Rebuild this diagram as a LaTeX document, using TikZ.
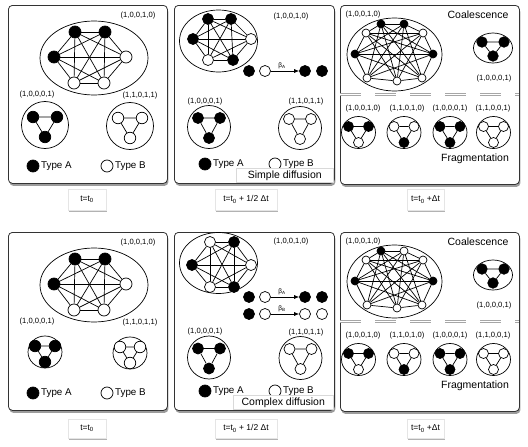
\documentclass[tikz,border=0pt]{standalone}
\usepackage{fontspec}
\setmainfont{Liberation Sans}
\usetikzlibrary{shadows,arrows.meta,shapes.geometric}
\def\ns{11pt}\def\tdx{12}\def\tdy{-8}\def\tdb{12}\def\trw{47pt}\def\trh{47pt}
\tikzset{
 panel/.style={draw=black!80, line width=0.8pt, rounded corners=4pt, fill=white, inner sep=0pt, anchor=north west,
   drop shadow={shadow xshift=1pt, shadow yshift=-2.5pt, opacity=0.55, fill=black!70}},
 tlab/.style={fill=white, draw=black!10, inner sep=0pt, minimum height=21pt, font=\fontsize{8.5}{9}\selectfont,
   drop shadow={shadow xshift=0.8pt, shadow yshift=-2pt, opacity=0.5, fill=black!60}},
 vec/.style={font=\fontsize{7.6}{8}\selectfont, inner sep=0pt},
 bigt/.style={font=\fontsize{10.5}{12}\selectfont, inner sep=0pt},
 leg/.style={font=\fontsize{9.8}{11}\selectfont, inner sep=0pt, anchor=west},
 bn/.style={circle, draw=black, fill=black, line width=0.7pt, inner sep=0pt, minimum size=\ns},
 wn/.style={circle, draw=black, fill=white, line width=0.7pt, inner sep=0pt, minimum size=\ns},
 tric/.style={ellipse, draw, line width=0.7pt, inner sep=0pt, minimum width=\trw, minimum height=\trh},
 bell/.style={ellipse, draw, line width=0.7pt, inner sep=0pt},
 lnk/.style={line width=0.7pt},
 arr/.style={line width=0.7pt, -{Latex[length=5pt,width=4pt]}},
 dline/.style={draw=black!35, line width=1.2pt, double=white, double distance=1.1pt, dash pattern=on 21pt off 14pt},
 dbox/.style={fill=white, draw=black!15, anchor=south east, minimum width=97pt, minimum height=14pt, inner sep=0pt, font=\fontsize{10.5}{12}\selectfont},
 beta/.style={font=\fontsize{6.5}{7}\selectfont, inner sep=0pt},
}
\newcommand\knodes[2]{%
 \foreach \x/\y/\s [count=\i] in {#2} {\node[\s] (#1\i) at (\x,\y) {};}%
}
\newcommand\ksixedges[1]{%
 \foreach \a/\b in {1/2,1/3,1/4,1/5,1/6,2/3,2/4,2/5,2/6,3/4,3/5,3/6,4/5,4/6,5/6} {\draw[lnk] (#1\a) -- (#1\b);}%
}
\newcommand\knineedges[1]{%
 \foreach \a/\b in {1/2,2/3,3/4,4/5,5/6,6/7,7/8,8/9,9/1,1/4,2/5,3/6,4/7,5/8,6/9,7/1,8/2,9/3,1/5,2/6,3/7,4/8,5/9,6/1,7/2,8/3,9/4} {\draw[lnk] (#1\a) -- (#1\b);}%
}
\newcommand\trinet[5]{%
 \node[tric] (#1) at #2 {};
 \node[#3] (#1a) at ([shift={(-\tdx,\tdy)}]#1.center) {};
 \node[#4] (#1b) at ([shift={(\tdx,\tdy)}]#1.center) {};
 \node[#5] (#1c) at ([shift={(0,\tdb)}]#1.center) {};
 \draw[lnk] (#1a) -- (#1b) (#1a) -- (#1c) (#1b) -- (#1c);
}
\newcommand\panelone[1]{%
 \node[panel, minimum width=159pt, minimum height=178pt] (#1box) at (8,5) {};
 \node[bell, minimum width=108pt, minimum height=74pt] (#1ell) at (94,58) {};
 \def\ns{12pt}
 \knodes{#1k}{75/32/bn,105/32/bn,126/57/wn,104/83/wn,74/83/wn,54/57/bn}
 \ksixedges{#1k}
 \node[vec] (#1v1) at (138,16) {(1,0,0,1,0)};
 \node[vec] (#1v2) at (37,95) {(1,0,0,0,1)};
 \node[vec] (#1v3) at (140,96) {(1,1,0,1,1)};
 \def\ns{11.5pt}
 \trinet{#1ta}{(45,125)}{bn}{bn}{bn}
 \trinet{#1tb}{(130,126)}{wn}{wn}{wn}
 \def\ns{12pt}
 \node[bn] (#1la) at (33,166) {};
 \node[leg] (#1lat) at (41,166) {Type A};
 \node[wn] (#1lb) at (107,166) {};
 \node[leg] (#1lbt) at (115,166) {Type B};
}
\newcommand\panelthree[2]{%
 \node[panel, minimum width=179pt, minimum height=179pt] (#1box) at (340,5) {};
 \node[bell, minimum width=95pt, minimum height=73pt] (#1ell) at (394.5,54.5) {};
 \def\ns{8pt}
 \knodes{#1k}{#2}
 \knineedges{#1k}
 \node[vec] (#1v1) at (363,15) {(1,0,0,1,0)};
 \node[bigt] (#1co) at (478,15) {Coalescence};
 \def\ns{10.5pt}\def\tdx{11}\def\tdy{-6}\def\tdb{8}\def\trw{39pt}\def\trh{30pt}
 \trinet{#1cl}{(493,48)}{bn}{bn}{bn}
 \node[vec] (#1v2) at (494,79) {(1,0,0,0,1)};
 \coordinate (#1dl) at (340,94.5);
 \coordinate (#1dr) at (519,94.5);
 \draw[dline] (#1dl) -- (#1dr);
 \node[vec] (#1f1) at (363,109) {(1,0,0,1,0)};
 \node[vec] (#1f2) at (407,109) {(1,1,0,1,0)};
 \node[vec] (#1f3) at (450,109) {(1,0,0,0,1)};
 \node[vec] (#1f4) at (493,109) {(1,1,0,0,1)};
 \def\ns{10pt}\def\tdx{10}\def\tdy{-6}\def\tdb{10}\def\trw{34pt}\def\trh{32pt}
 \trinet{#1fa}{(358.5,132.5)}{bn}{bn}{wn}
 \trinet{#1fb}{(404,132.5)}{wn}{wn}{bn}
 \trinet{#1fc}{(450,132.5)}{bn}{bn}{bn}
 \trinet{#1fd}{(493.5,132.5)}{wn}{wn}{wn}
 \node[bigt] (#1fr) at (475,159) {Fragmentation};
}
\begin{document}
\begin{tikzpicture}[x=1pt,y=-1pt]
\path[use as bounding box, fill=white] (0,0) rectangle (528,447);
% ---------- top row ----------
\panelone{A}
% panel 2 top
\node[panel, minimum width=160pt, minimum height=178pt] (Bbox) at (174,5) {};
\node[bell, minimum width=78pt, minimum height=62pt] (Bell) at (218.5,41) {};
\begin{scope}
\def\ns{11pt}
\knodes{Bk}{208/19/bn,231/19/bn,251/39/wn,233/60/bn,208/60/wn,193/39/bn}
\ksixedges{Bk}
\node[vec] (Bv1) at (291,17) {(1,0,0,1,0)};
\node[bn] (Bd1) at (249,71) {};
\node[wn] (Bd2) at (265,71) {};
\node[bn] (Bd3) at (305,71) {};
\node[bn] (Bd4) at (322,71) {};
\draw[arr] (Bd2) -- (Bd3);
\node[beta] (Bbeta) at (282,66) {β\textsubscript{A}};
\node[vec] (Bv2) at (205,102) {(1,0,0,0,1)};
\node[vec] (Bv3) at (306,102) {(1,1,0,1,1)};
\def\ns{11pt}\def\tdx{11}\def\tdy{-9}\def\tdb{11}\def\trw{43pt}\def\trh{43pt}
\trinet{Bta}{(209,127)}{bn}{bn}{bn}
\trinet{Btb}{(300,128)}{wn}{wn}{wn}
\def\ns{12pt}
\node[bn] (Bla) at (205,164) {};
\node[leg] (Blat) at (213,164) {Type A};
\node[wn] (Blb) at (275,164) {};
\node[leg] (Blbt) at (283,164) {Type B};
\node[dbox] (Bsd) at (333.5,182.5) {Simple diffusion};
\end{scope}
\panelthree{C}{381/24/bn,404/24/bn,423/33/wn,433/54/bn,422/78/wn,397/81/wn,367/78/wn,355/54/bn,366/33/wn}
\node[tlab, minimum width=38pt] (T1) at (87,199.5) {t=t\textsubscript{0}};
\node[tlab, minimum width=62pt] (T2) at (246,199.5) {t=t\textsubscript{0} + 1/2 Δt};
\node[tlab, minimum width=37pt] (T3) at (425.5,199.5) {t=t\textsubscript{0} +Δt};
% ---------- bottom row ----------
\begin{scope}[shift={(0,227)}]
\panelone{D}
\panelthree{F}{381/24/bn,404/24/wn,423/33/wn,433/54/bn,422/78/wn,397/81/wn,367/78/wn,355/54/bn,366/33/wn}
\end{scope}
\node[panel, minimum width=160pt, minimum height=178pt] (Ebox) at (174,232) {};
\node[bell, minimum width=78pt, minimum height=61pt] (Eell) at (218.5,263) {};
\begin{scope}
\def\ns{11pt}
\knodes{Ek}{210/242/wn,234/242/bn,251/265/wn,234/287/bn,210/287/wn,192/265/bn}
\ksixedges{Ek}
\node[vec] (Ev1) at (291,242) {(1,0,0,1,0)};
\node[bn] (Ed1) at (249,297) {};
\node[wn] (Ed2) at (265,297) {};
\node[bn] (Ed3) at (305,297) {};
\node[bn] (Ed4) at (322,297) {};
\draw[arr] (Ed2) -- (Ed3);
\node[beta] (Ebeta1) at (282,292) {β\textsubscript{A}};
\node[bn] (Ee1) at (249,314) {};
\node[wn] (Ee2) at (265,314) {};
\node[wn] (Ee3) at (305,314) {};
\node[wn] (Ee4) at (322,314) {};
\draw[arr] (Ee2) -- (Ee3);
\node[beta] (Ebeta2) at (282,309) {β\textsubscript{B}};
\node[vec] (Ev2) at (205,332) {(1,0,0,0,1)};
\node[vec] (Ev3) at (306,333) {(1,1,0,1,1)};
\def\ns{11pt}\def\tdx{11}\def\tdy{-9}\def\tdb{11}\def\trw{43pt}\def\trh{43pt}
\trinet{Eta}{(209,357.5)}{bn}{bn}{bn}
\trinet{Etb}{(300.5,358)}{wn}{wn}{wn}
\def\ns{12pt}
\node[bn] (Ela) at (205,391) {};
\node[leg] (Elat) at (213,391) {Type A};
\node[wn] (Elb) at (275,391) {};
\node[leg] (Elbt) at (283,391) {Type B};
\node[dbox, minimum width=100pt] (Esd) at (333.5,409.5) {Complex diffusion};
\end{scope}
\node[tlab, minimum width=38pt, minimum height=19pt] (T4) at (87,428.5) {t=t\textsubscript{0}};
\node[tlab, minimum width=62pt, minimum height=19pt] (T5) at (246,428.5) {t=t\textsubscript{0} + 1/2 Δt};
\node[tlab, minimum width=37pt, minimum height=19pt] (T6) at (425.5,428.5) {t=t\textsubscript{0} +Δt};
\end{tikzpicture}
\end{document}
